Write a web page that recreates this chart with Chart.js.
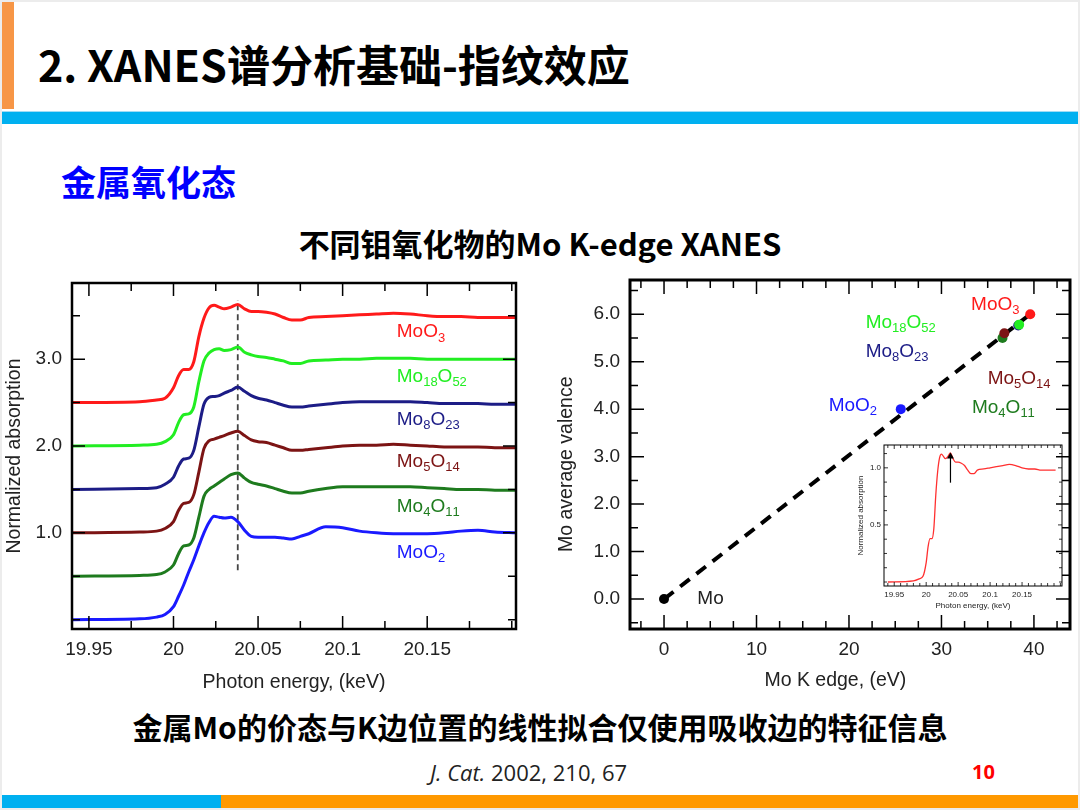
<!DOCTYPE html>
<html>
<head>
<meta charset="utf-8">
<script src="https://cdn.jsdelivr.net/npm/chart.js@4.4.1/dist/chart.umd.min.js"></script>
<style>
  html, body { margin: 0; padding: 0; background: #fff; }
  body { width: 1080px; height: 810px; position: relative; overflow: hidden;
         font-family: "Noto Sans CJK SC", "Noto Sans", sans-serif; }
  .abs { position: absolute; }
  .txt { position: absolute; white-space: nowrap; line-height: 1; }
  canvas { position: absolute; }
</style>
</head>
<body>
<div class="abs" style="left:0;top:0;width:1076px;height:806px;border:2px solid #ececec"></div>
<div class="abs" style="left:2px;top:2px;width:12px;height:107px;background:#f79646"></div>
<div class="abs" style="left:2px;top:111px;width:1076px;height:1px;background:#9fdcf5"></div>
<div class="abs" style="left:2px;top:112px;width:1076px;height:12px;background:#00b0f0"></div>
<div class="abs" style="left:2px;top:795px;width:219px;height:13px;background:#00b0f0"></div>
<div class="abs" style="left:221px;top:795px;width:857px;height:13px;background:#ff9900"></div>

<div class="txt" style="left:38px;top:42px;font-size:43px;font-weight:700;color:#000">2.&nbsp;XANES谱分析基础-指纹效应</div>
<div class="txt" style="left:61px;top:163px;font-size:35px;font-weight:700;color:#0000ff">金属氧化态</div>
<div class="txt" style="left:0;width:1080px;text-align:center;top:227px;font-size:31px;font-weight:700;color:#000">不同钼氧化物的Mo K-edge XANES</div>
<div class="txt" style="left:0;width:1080px;text-align:center;top:711px;font-size:30px;font-weight:700;color:#000">金属Mo的价态与K边位置的线性拟合仅使用吸收边的特征信息</div>
<div class="txt" style="left:430px;top:761px;font-size:22px;color:#222;font-family:'Open Sans','Noto Sans',sans-serif"><i>J. Cat.</i> 2002, 210, 67</div>
<div class="txt" style="left:972px;top:762px;font-size:20px;font-weight:700;color:#ff0000;font-family:'Open Sans','Noto Sans',sans-serif">10</div>

<canvas id="spectra" width="530" height="428" style="left:0;top:270px"></canvas>
<canvas id="valence" width="540" height="430" style="left:540px;top:268px"></canvas>
<canvas id="inset" width="222" height="178" style="left:845px;top:438px"></canvas>

<script>
// photon energy grid (keV) shared by all spectra
const energyKeV = [19.94, 19.98, 19.99, 19.995, 20.0, 20.003, 20.006, 20.009, 20.012, 20.015,
  20.018, 20.021, 20.024, 20.027, 20.03, 20.034, 20.038, 20.042, 20.046, 20.05,
  20.055, 20.06, 20.065, 20.07, 20.075, 20.08, 20.09, 20.1, 20.11, 20.12,
  20.13, 20.14, 20.15, 20.16, 20.17, 20.18, 20.19, 20.2025];

// normalized absorption
const moO3Mu = [0, 0.01, 0.03, 0.05, 0.17, 0.31, 0.38, 0.38, 0.47, 0.76,
  0.97, 1.09, 1.12, 1.10, 1.08, 1.10, 1.13, 1.08, 1.05, 1.05,
  1.04, 1.02, 0.98, 0.95, 0.95, 0.98, 0.99, 1.00, 1.01, 1.02,
  1.03, 1.02, 1.00, 0.99, 0.99, 0.98, 0.98, 0.98];
const mo18O52Mu = [0, 0.01, 0.02, 0.05, 0.13, 0.27, 0.36, 0.37, 0.45, 0.74,
  0.98, 1.07, 1.11, 1.12, 1.10, 1.11, 1.14, 1.08, 1.05, 1.03,
  1.02, 1.00, 0.98, 0.95, 0.95, 0.98, 0.99, 1.00, 1.00, 1.01,
  1.01, 1.01, 1.00, 1.00, 1.00, 1.00, 1.00, 1.00];
const mo8O23Mu = [0, 0.01, 0.02, 0.06, 0.14, 0.27, 0.35, 0.36, 0.45, 0.72,
  0.98, 1.06, 1.07, 1.08, 1.11, 1.14, 1.18, 1.13, 1.08, 1.05,
  1.03, 1.00, 0.97, 0.95, 0.95, 0.96, 0.98, 1.00, 1.01, 1.01,
  1.01, 1.01, 1.00, 0.99, 0.99, 0.99, 0.98, 0.98];
const mo5O14Mu = [0, 0.01, 0.02, 0.05, 0.13, 0.26, 0.34, 0.35, 0.44, 0.70,
  0.97, 1.06, 1.08, 1.10, 1.12, 1.15, 1.17, 1.12, 1.07, 1.05,
  1.04, 1.01, 0.98, 0.95, 0.95, 0.96, 0.98, 1.00, 1.01, 1.01,
  1.02, 1.01, 1.00, 0.99, 0.99, 0.99, 0.98, 0.98];
const mo4O11Mu = [0, 0.01, 0.02, 0.05, 0.13, 0.26, 0.35, 0.36, 0.44, 0.68,
  0.92, 1.00, 1.04, 1.08, 1.12, 1.17, 1.19, 1.13, 1.08, 1.06,
  1.04, 1.01, 0.98, 0.96, 0.96, 0.98, 1.01, 1.03, 1.03, 1.03,
  1.03, 1.03, 1.02, 1.01, 1.00, 1.00, 0.99, 0.99];
const moO2Mu = [0, 0.01, 0.03, 0.06, 0.15, 0.27, 0.40, 0.55, 0.69, 0.85,
  1.00, 1.12, 1.19, 1.18, 1.17, 1.18, 1.13, 1.03, 0.96, 0.95,
  0.95, 0.95, 0.94, 0.93, 0.96, 0.99, 1.07, 1.06, 1.02, 1.00,
  0.99, 0.99, 0.99, 1.00, 1.02, 1.03, 1.01, 1.00];

const spectraNames = ["MoO3", "Mo18O52", "Mo8O23", "Mo5O14", "Mo4O11", "MoO2"];
const spectraMu = [moO3Mu, mo18O52Mu, mo8O23Mu, mo5O14Mu, mo4O11Mu, moO2Mu];
const spectraOffsets = [2.5, 2.0, 1.5, 1.0, 0.5, 0];
const spectraColors = ["#ff1a1a", "#22ee22", "#1c1c86", "#7c1414", "#1e7b1e", "#1a1aff"];
const spectraLabelE = 20.132;
const spectraLabelMu = [3.31, 2.80, 2.30, 1.82, 1.30, 0.77];

// dashed marker at the white-line peak
const markerE = [20.038, 20.038];
const markerMu = [0.57, 3.68];

// edge position vs. average valence
const compounds = ["Mo", "MoO2", "Mo8O23", "Mo4O11", "Mo5O14", "Mo18O52", "MoO3"];
const edgeShiftEV = [0, 25.6, 38.3, 36.6, 36.8, 38.4, 39.6];
const avgValence = [0, 4.0, 5.76, 5.5, 5.6, 5.78, 6.0];
const compoundColors = ["#000000", "#1a1aff", "#1c1c86", "#1e7b1e", "#7c1414", "#22ee22", "#ff1a1a"];
const compoundLabelEV = [3.6, 17.8, 21.8, 33.3, 35.0, 21.8, 33.2];
const compoundLabelValence = [0, 4.08, 5.2, 4.02, 4.65, 5.81, 6.19];
const fitEV = [0, 39.6];
const fitValence = [0, 6.0];

// inset: MoO3 spectrum with arrow at the edge feature
const arrowE = [20.038, 20.038];
const arrowMu = [0.87, 1.10];

const onStep = (v, s) => Math.abs(v / s - Math.round(v / s)) < 1e-6;
const pts = (xs, ys, off) => xs.map((x, i) => ({ x: x, y: ys[i] + (off || 0) }));
const SANS = '"Liberation Sans", Arial, sans-serif';

const frameTicks = {
  id: "frameTicks",
  afterDatasetsDraw(chart, args, opts) {
    const { ctx, chartArea: a, scales } = chart;
    ctx.save();
    ctx.strokeStyle = "#000";
    ctx.lineWidth = opts.tickWidth;
    ctx.beginPath();
    scales.x.ticks.forEach((t) => {
      const px = scales.x.getPixelForValue(t.value);
      const len = t.label ? opts.major : opts.minor;
      ctx.moveTo(px, a.bottom); ctx.lineTo(px, a.bottom - len);
      ctx.moveTo(px, a.top); ctx.lineTo(px, a.top + len);
    });
    scales.y.ticks.forEach((t) => {
      const py = scales.y.getPixelForValue(t.value);
      const len = t.label ? opts.major : opts.minor;
      ctx.moveTo(a.left, py); ctx.lineTo(a.left + len, py);
      ctx.moveTo(a.right, py); ctx.lineTo(a.right - len, py);
    });
    ctx.stroke();
    ctx.lineWidth = opts.frameWidth;
    ctx.strokeRect(a.left, a.top, a.right - a.left, a.bottom - a.top);
    ctx.restore();
  },
};

function drawFormula(ctx, text, x, y, size, color) {
  ctx.fillStyle = color;
  ctx.textBaseline = "middle";
  ctx.textAlign = "left";
  let cx = x;
  for (const ch of text) {
    const sub = /\d/.test(ch);
    ctx.font = (sub ? Math.round(size * 0.7) : size) + "px " + SANS;
    ctx.fillText(ch, cx, y + (sub ? size * 0.3 : 0));
    cx += ctx.measureText(ch).width;
  }
}

const formulaLabels = {
  id: "formulaLabels",
  afterDatasetsDraw(chart, args, opts) {
    const { ctx, scales } = chart;
    ctx.save();
    opts.texts.forEach((t, i) => {
      drawFormula(ctx, t, scales.x.getPixelForValue(opts.xs[i]),
        scales.y.getPixelForValue(opts.ys[i]), opts.size, opts.colors[i]);
    });
    ctx.restore();
  },
};

function axis(o) {
  return {
    type: "linear",
    min: o.min,
    max: o.max,
    grid: { display: false, drawTicks: false },
    border: { display: false },
    ticks: {
      stepSize: o.step,
      includeBounds: false,
      autoSkip: false,
      maxRotation: 0,
      padding: o.tickPad,
      color: "#222",
      font: { family: SANS, size: o.font },
      callback: o.label,
    },
    title: {
      display: true,
      text: o.title,
      color: "#222",
      font: { family: SANS, size: o.titleFont },
      padding: o.titlePad,
    },
    afterFit: (s) => {
      o.fit(s);
      s.paddingTop = 0;
      s.paddingBottom = 0;
      s.paddingLeft = 0;
      s.paddingRight = 0;
    },
  };
}

// left: stacked XANES spectra
const spectraSets = spectraMu.map((mu, i) => ({
  data: pts(energyKeV, mu, spectraOffsets[i]),
  borderColor: spectraColors[i],
  borderWidth: 3,
  pointRadius: 0,
  cubicInterpolationMode: "monotone",
}));
spectraSets.push({
  data: pts(markerE, markerMu),
  borderColor: "#444",
  borderWidth: 1.8,
  borderDash: [6, 4],
  pointRadius: 0,
});

new Chart(document.getElementById("spectra"), {
  type: "line",
  data: { datasets: spectraSets },
  options: {
    responsive: false,
    animation: false,
    layout: { padding: { top: 13, right: 14, left: 0, bottom: 0 } },
    plugins: {
      legend: { display: false },
      tooltip: { enabled: false },
      frameTicks: { major: 13, minor: 8, tickWidth: 1.5, frameWidth: 2.5 },
      formulaLabels: {
        texts: spectraNames,
        xs: spectraNames.map(() => spectraLabelE),
        ys: spectraLabelMu,
        colors: spectraColors,
        size: 19,
      },
    },
    scales: {
      x: axis({
        min: 19.94, max: 20.2025, step: 0.025, tickPad: 9, font: 19,
        label: (v) => (v < 20.19 && onStep(v, 0.05) ? String(+v.toFixed(2)) : ""),
        title: "Photon energy, (keV)", titleFont: 19.5, titlePad: { top: 0, bottom: 4 },
        fit: (s) => { s.height = 69; },
      }),
      y: axis({
        min: -0.107, max: 3.877, step: 0.5, tickPad: 10, font: 19,
        label: (v) => (v > 0.5 && onStep(v, 1) ? v.toFixed(1) : ""),
        title: "Normalized absorption", titleFont: 19.5, titlePad: { top: 3, bottom: 0 },
        fit: (s) => { s.width = 72; },
      }),
    },
  },
  plugins: [frameTicks, formulaLabels],
});

// right: average valence vs. edge position
new Chart(document.getElementById("valence"), {
  type: "scatter",
  data: {
    datasets: [
      {
        data: pts(edgeShiftEV, avgValence),
        pointRadius: 5,
        pointBorderWidth: 0,
        pointBackgroundColor: compoundColors,
        order: 1,
      },
      {
        data: pts(fitEV, fitValence),
        showLine: true,
        borderColor: "#000",
        borderWidth: 4,
        borderDash: [12, 8.5],
        pointRadius: 0,
        order: 2,
      },
    ],
  },
  options: {
    responsive: false,
    animation: false,
    layout: { padding: { top: 12, right: 10, left: 0, bottom: 0 } },
    plugins: {
      legend: { display: false },
      tooltip: { enabled: false },
      frameTicks: { major: 14, minor: 8, tickWidth: 1.5, frameWidth: 3 },
      formulaLabels: {
        texts: compounds,
        xs: compoundLabelEV,
        ys: compoundLabelValence,
        colors: compounds.map((c, i) => (i === 0 ? "#222" : compoundColors[i])),
        size: 19,
      },
    },
    scales: {
      x: axis({
        min: -3.68, max: 43.9, step: 2.5, tickPad: 9, font: 19,
        label: (v) => (onStep(v, 10) ? String(v) : ""),
        title: "Mo K edge, (eV)\u2003\u2002", titleFont: 19.5, titlePad: { top: 0, bottom: 6 },
        fit: (s) => { s.height = 69; },
      }),
      y: axis({
        min: -0.63, max: 6.72, step: 0.5, tickPad: 10, font: 19,
        label: (v) => (onStep(v, 1) ? v.toFixed(1) : ""),
        title: "Mo average valence\u2003", titleFont: 19.5, titlePad: { top: 15, bottom: 0 },
        fit: (s) => { s.width = 90; },
      }),
    },
  },
  plugins: [frameTicks, formulaLabels],
});

// inset: MoO3 spectrum
new Chart(document.getElementById("inset"), {
  type: "line",
  data: {
    datasets: [
      {
        data: pts(arrowE, arrowMu),
        borderColor: "#000",
        borderWidth: 1.2,
        pointRadius: [0, 4],
        pointStyle: "triangle",
        pointBackgroundColor: "#000",
        pointBorderWidth: 0,
      },
      {
        data: pts(energyKeV, moO3Mu),
        borderColor: "#ff3030",
        borderWidth: 1.3,
        pointRadius: 0,
        cubicInterpolationMode: "monotone",
      },
    ],
  },
  options: {
    responsive: false,
    animation: false,
    layout: { padding: { top: 7, right: 5, left: 0, bottom: 0 } },
    plugins: {
      legend: { display: false },
      tooltip: { enabled: false },
      frameTicks: { major: 4, minor: 3, tickWidth: 0.8, frameWidth: 1 },
    },
    scales: {
      x: axis({
        min: 19.934, max: 20.2125, step: 0.01, tickPad: 4, font: 8,
        label: (v) => (v < 20.19 && onStep(v, 0.05) ? String(+v.toFixed(2)) : ""),
        title: "Photon energy, (keV)", titleFont: 8, titlePad: { top: 0, bottom: 5 },
        fit: (s) => { s.height = 30; },
      }),
      y: axis({
        min: -0.035, max: 1.2, step: 0.125, tickPad: 3, font: 8,
        label: (v) => (v > 0.2 && onStep(v, 0.5) ? v.toFixed(1) : ""),
        title: "Normalized absorption", titleFont: 8, titlePad: { top: 11, bottom: 0 },
        fit: (s) => { s.width = 39; },
      }),
    },
  },
  plugins: [frameTicks],
});
</script>
</body>
</html>
